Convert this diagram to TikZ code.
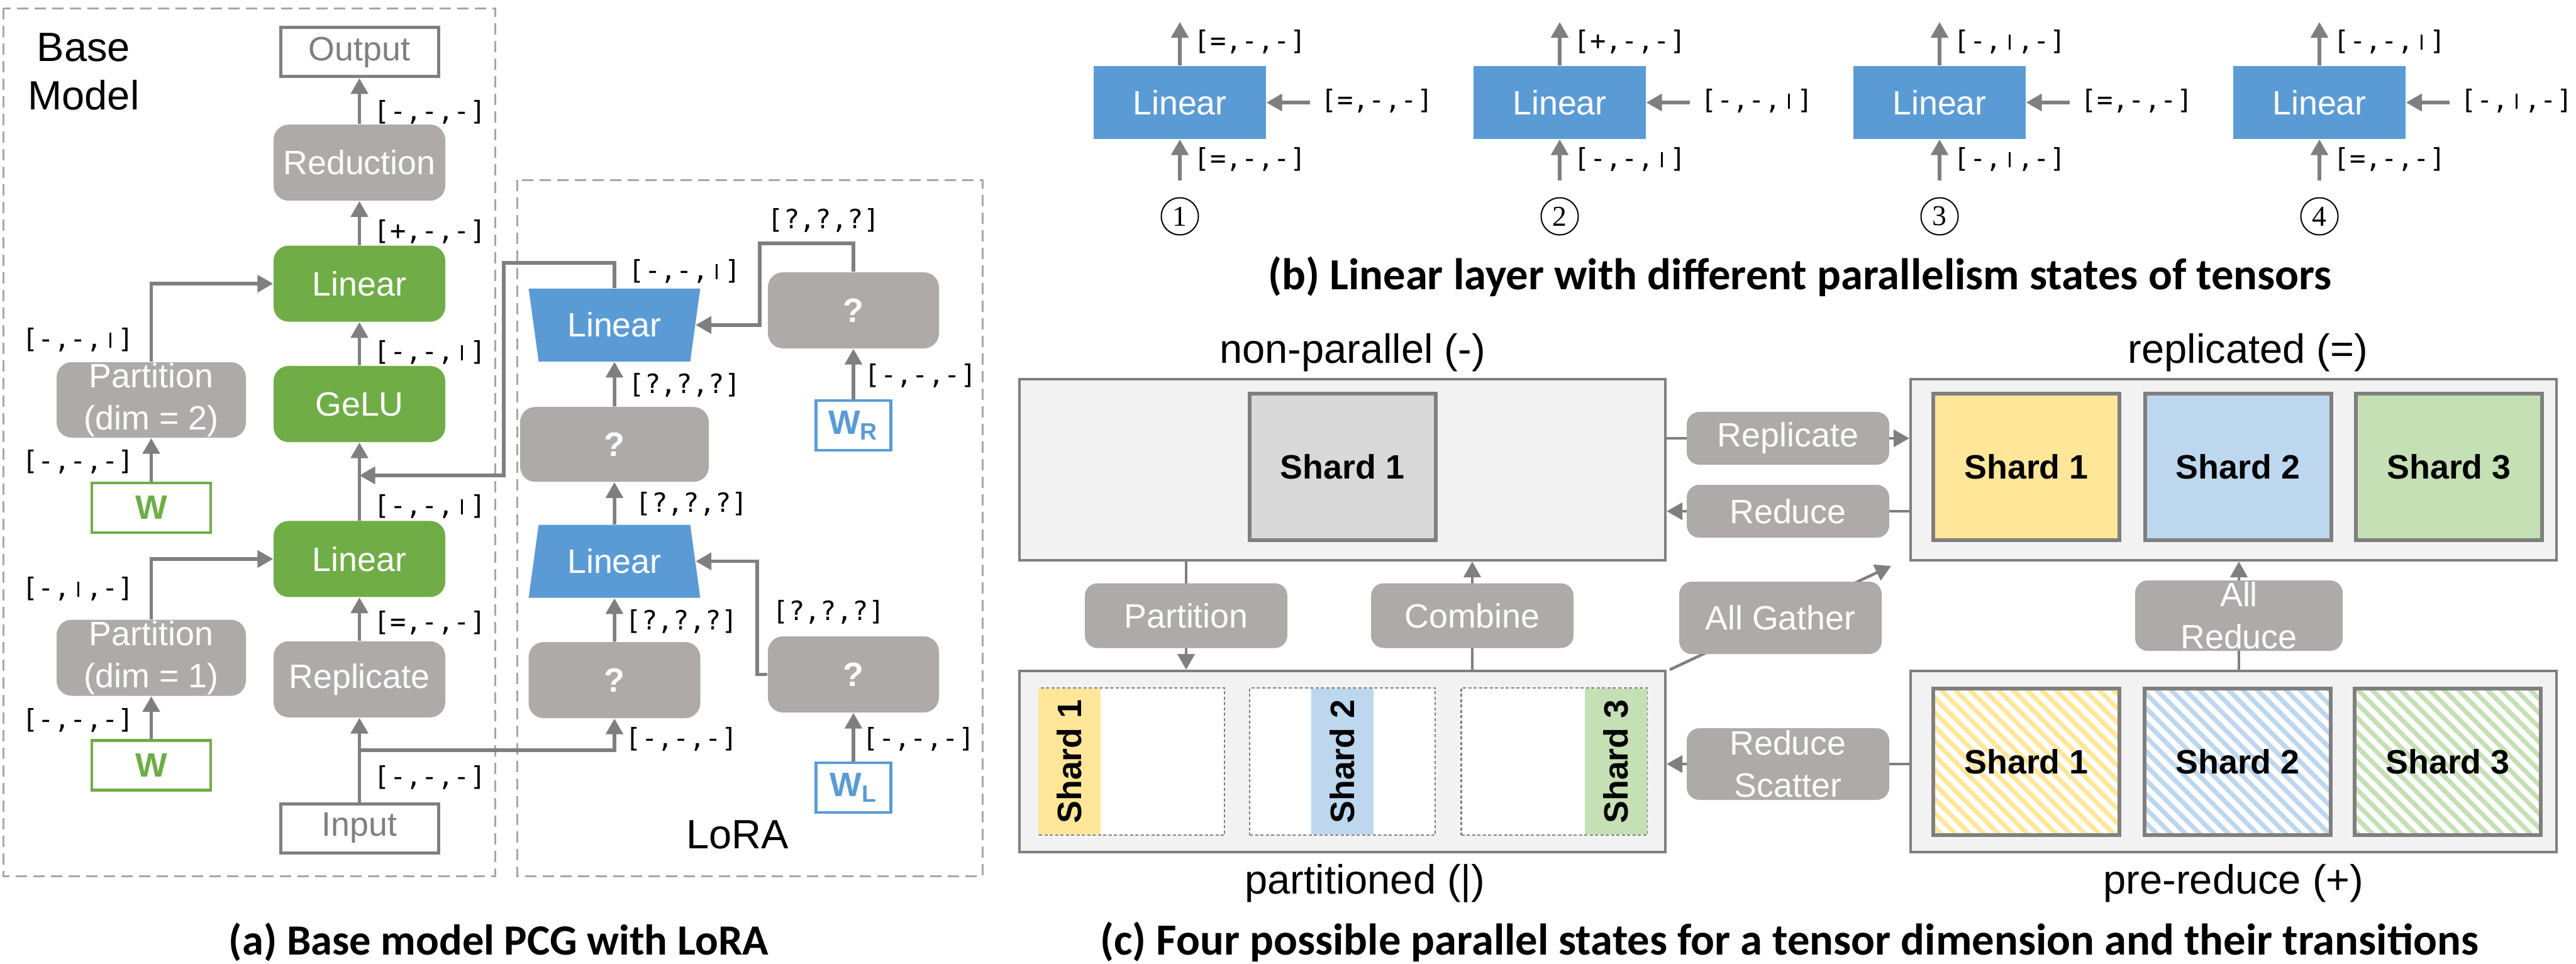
\documentclass[tikz,border=0pt]{standalone}
\usepackage{fontspec}
\setmainfont{Liberation Sans}
\newfontfamily\dejamono{DejaVu Sans Mono}
\newfontfamily\carlito{Carlito}
\newfontfamily\libserif{Liberation Serif}
\usepackage{xcolor}
\definecolor{opgray}{HTML}{AEAAAA}
\definecolor{linegray}{HTML}{7F7F7F}
\definecolor{dashgray}{HTML}{A6A6A6}
\definecolor{basegreen}{HTML}{70AD47}
\definecolor{lorablue}{HTML}{5B9BD5}
\definecolor{panelgray}{HTML}{F2F2F2}
\definecolor{shardgray}{HTML}{D9D9D9}
\definecolor{shardyellow}{HTML}{FFE699}
\definecolor{shardblue}{HTML}{BDD7EE}
\definecolor{shardgreen}{HTML}{C5E0B4}
\usetikzlibrary{shapes.geometric, arrows.meta, positioning, calc, patterns.meta}
\newcommand{\fBox}{\fontsize{15.3}{19}\selectfont}
\newcommand{\fLbl}{\dejamono\fontsize{12}{14}\selectfont}
\newcommand{\fTitle}{\fontsize{18.5}{22}\selectfont}
\newcommand{\fCap}{\carlito\bfseries\fontsize{19.5}{23}\selectfont}
\newcommand{\fCapw}{\carlito\bfseries\fontsize{20.1}{24}\selectfont}
\newcommand{\fNum}{\libserif\fontsize{13}{13}\selectfont}
\newcommand{\pbar}{\makebox[0.602em]{\rule{0.075em}{0.58em}}}

\begin{document}
\begin{tikzpicture}[
        frame/.style={draw=dashgray, line width=0.03cm, dash pattern=on 0.18cm off 0.1cm},
        opbox/.style={rectangle, rounded corners=0.24cm, fill=opgray, text=white, inner sep=0pt, minimum width=2.73cm, minimum height=1.21cm, align=center, font=\fBox},
        greenbox/.style={opbox, fill=basegreen},
        qbox/.style={opbox, font=\fBox\bfseries},
        iobox/.style={rectangle, draw=linegray, line width=0.05cm, text=linegray, minimum width=2.51cm, minimum height=0.78cm, inner sep=0pt, font=\fBox},
        wbox/.style={rectangle, draw=basegreen, line width=0.045cm, fill=white, text=basegreen, minimum width=1.89cm, minimum height=0.79cm, inner sep=0pt, font=\fBox\bfseries},
        lorab/.style={wbox, draw=lorablue, text=lorablue, minimum width=1.19cm},
        trap/.style={trapezium, trapezium stretches=true, fill=lorablue, text=white, minimum width=2.74cm, minimum height=1.16cm, inner sep=0pt, font=\fBox},
        lbl/.style={font=\fLbl, inner sep=0pt, anchor=west},
        lbll/.style={lbl, anchor=east},
        line/.style={draw=linegray, line width=0.055cm, -{Triangle[length=0.25cm, width=0.27cm]}},
        tline/.style={line, line width=0.045cm},
        linb/.style={rectangle, fill=lorablue, text=white, minimum width=2.74cm, minimum height=1.16cm, inner sep=0pt, font=\fBox},
        circ/.style={circle, draw=black, line width=0.02cm, minimum size=0.59cm, inner sep=0pt, font=\fNum},
        panel/.style={rectangle, draw=linegray, fill=panelgray, line width=0.04cm, minimum width=10.27cm, minimum height=2.88cm, inner sep=0pt},
        shard/.style={rectangle, draw=linegray, line width=0.06cm, minimum width=2.96cm, minimum height=2.33cm, inner sep=0pt, font=\fBox\bfseries},
        hatch/.style={shard, preaction={fill=white}, pattern={Lines[angle=-45, distance=4.6pt, line width=2.1pt]}},
        slot/.style={rectangle, draw=linegray, dash pattern=on 0.05cm off 0.035cm, line width=0.025cm, fill=white, minimum width=2.95cm, minimum height=2.34cm, inner sep=0pt},
        strip/.style={rectangle, rotate=90, minimum width=2.32cm, minimum height=0.99cm, inner sep=0pt, font=\fBox\bfseries},
        opc/.style={opbox, rounded corners=0.2cm, minimum width=3.22cm, minimum height=1.03cm},
        title/.style={font=\fTitle, inner sep=0pt, align=center},
        caption/.style={font=\fCap, inner sep=0pt}]

    \useasboundingbox (0,0) rectangle (40.96,-15.32);

    % (a) base model and LoRA
    \draw [frame] (0.05,-0.13) rectangle (7.87,-13.93);
    \draw [frame] (8.22,-2.86) rectangle (15.62,-13.93);
    \node [title] (bm) at (1.33,-1.14) {Base\\Model};
    \node [title] (lora) at (11.73,-13.27) {LoRA};

    \node [iobox] (inp) at (5.715,-13.17) {Input};
    \node [opbox, above=1.34cm of inp] (repl) {Replicate};
    \node [greenbox, above=0.69cm of repl] (lin1) {Linear};
    \node [greenbox, above=1.24cm of lin1] (gelu) {GeLU};
    \node [greenbox, above=0.69cm of gelu] (lin2) {Linear};
    \node [opbox, above=0.70cm of lin2] (red) {Reduction};
    \node [iobox, above=0.73cm of red] (out) {Output};

    \node [opbox, minimum width=3.01cm] (par1) at (2.405,-10.46) {Partition\\(dim = 1)};
    \node [wbox, below=0.68cm of par1] (w1) {W};
    \node [opbox, minimum width=3.01cm, minimum height=1.20cm] (par2) at (2.405,-6.36) {Partition\\(dim = 2)};
    \node [wbox, below=0.69cm of par2] (w2) {W};

    \coordinate (spl) at (5.715,-11.93);
    \coordinate (mrg) at (5.715,-7.56);
    \path [line] (inp) -- (repl);
    \path [line] (repl) -- (lin1);
    \path [line] (lin1) -- (gelu);
    \path [line] (gelu) -- (lin2);
    \path [line] (lin2) -- (red);
    \path [line] (red) -- (out);
    \path [line] (w1) -- (par1);
    \path [line] (w2) -- (par2);
    \path [line] (par1.north) |- (lin1.west);
    \path [line] (par2.north) |- (lin2.west);

    \node [lbl] (a1) at (5.94,-1.78) {[-,-,-]};
    \node [lbl] (a2) at (5.94,-3.68) {[+,-,-]};
    \node [lbl] (a3) at (5.94,-5.60) {[-,-,\pbar]};
    \node [lbl] (a4) at (5.94,-8.05) {[-,-,\pbar]};
    \node [lbl] (a5) at (5.94,-9.90) {[=,-,-]};
    \node [lbl] (a6) at (5.94,-12.36) {[-,-,-]};
    \node [lbll] (a7) at (2.14,-5.40) {[-,-,\pbar]};
    \node [lbll] (a8) at (2.14,-7.34) {[-,-,-]};
    \node [lbll] (a9) at (2.14,-9.36) {[-,\pbar,-]};
    \node [lbll] (a10) at (2.14,-11.45) {[-,-,-]};

    \node [qbox] (ql) at (9.77,-10.815) {?};
    \node [trap, trapezium angle=76, above=0.69cm of ql] (llin) {Linear};
    \node [qbox, minimum width=3.00cm, minimum height=1.19cm, above=0.67cm of llin] (qm) {?};
    \node [trap, trapezium left angle=104, trapezium right angle=104, above=0.71cm of qm] (tlin) {Linear};
    \node [qbox, minimum width=2.72cm] (qs) at (13.57,-10.725) {?};
    \node [lorab, below=0.77cm of qs] (wl) {W\textsubscript{L}};
    \node [qbox, minimum width=2.72cm] (qr) at (13.57,-4.935) {?};
    \node [lorab, below=0.80cm of qr] (wr) {W\textsubscript{R}};

    \path [line] (spl) -| (ql.south);
    \path [line] (ql) -- (llin);
    \path [line] (llin) -- (qm);
    \path [line] (qm) -- (tlin);
    \path [line] (wl) -- (qs);
    \path [line] (wr) -- (qr);
    \path [line] (qs.west) -- (12.04,-10.725) |- (llin.east);
    \path [line] (qr.north) |- (12.08,-3.87) |- (tlin.east);
    \path [line] (tlin.north) |- (8.01,-4.18) |- (mrg);

    \node [lbl] (b1) at (9.99,-4.31) {[-,-,\pbar]};
    \node [lbl] (b2) at (9.99,-6.12) {[?,?,?]};
    \node [lbl] (b3) at (10.10,-8.01) {[?,?,?]};
    \node [lbl] (b4) at (9.94,-9.88) {[?,?,?]};
    \node [lbl] (b5) at (9.94,-11.75) {[-,-,-]};
    \node [lbl] (b6) at (12.20,-3.50) {[?,?,?]};
    \node [lbl] (b7) at (13.74,-5.97) {[-,-,-]};
    \node [lbl] (b8) at (12.28,-9.73) {[?,?,?]};
    \node [lbl] (b9) at (13.71,-11.75) {[-,-,-]};

    % (b) linear layer states
    \foreach \n/\xc/\up/\side/\down in {1/18.76/{[=,-,-]}/{[=,-,-]}/{[=,-,-]},
            2/24.80/{[+,-,-]}/{[-,-,\pbar]}/{[-,-,\pbar]},
            3/30.84/{[-,\pbar,-]}/{[=,-,-]}/{[-,\pbar,-]},
            4/36.88/{[-,-,\pbar]}/{[-,\pbar,-]}/{[=,-,-]}} {
        \node [linb] (lb\n) at (\xc,-1.63) {Linear};
        \coordinate (bt\n) at (\xc,-0.35);
        \coordinate (bb\n) at (\xc,-2.87);
        \coordinate (bs\n) at (\xc+2.07,-1.63);
        \path [line] (lb\n.north) -- (bt\n);
        \path [line] (bb\n) -- (lb\n.south);
        \path [line] (bs\n) -- (lb\n.east);
        \node [lbl] (lu\n) at (\xc+0.22,-0.66) {\up};
        \node [lbl] (ls\n) at (\xc+2.24,-1.60) {\side};
        \node [lbl] (ld\n) at (\xc+0.22,-2.53) {\down};
        \node [circ] (cn\n) at (\xc,-3.44) {\n};
    }

    % (c) parallel states
    \node [panel] (np) at (21.345,-7.47) {};
    \node [panel] (rp) at (35.515,-7.47) {};
    \node [panel] (pt) at (21.345,-12.11) {};
    \node [panel] (pr) at (35.515,-12.11) {};
    \node [title, above=0.09cm of np, xshift=0.16cm] (tnp) {non-parallel (-)};
    \node [title, above=0.09cm of rp, xshift=0.23cm] (trp) {replicated (=)};
    \node [title, below=0.17cm of pt, xshift=0.36cm] (tpt) {partitioned (|)};
    \node [title, below=0.17cm of pr] (tpr) {pre-reduce (+)};

    \node [shard, fill=shardgray] (s0) at (21.345,-7.42) {Shard 1};
    \node [shard, fill=shardyellow] (s1) at (32.22,-7.42) {Shard 1};
    \node [shard, fill=shardblue] (s2) at (35.585,-7.42) {Shard 2};
    \node [shard, fill=shardgreen] (s3) at (38.94,-7.42) {Shard 3};
    \node [hatch, pattern color=shardyellow] (h1) at (32.22,-12.115) {Shard 1};
    \node [hatch, pattern color=shardblue] (h2) at (35.58,-12.115) {Shard 2};
    \node [hatch, pattern color=shardgreen] (h3) at (38.92,-12.115) {Shard 3};

    \node [slot] (sl1) at (17.995,-12.11) {};
    \node [slot] (sl2) at (21.345,-12.11) {};
    \node [slot] (sl3) at (24.71,-12.11) {};
    \node [strip, fill=shardyellow] (st1) at ([xshift=0.5cm]sl1.west) {Shard 1};
    \node [strip, fill=shardblue] (st2) at (sl2.center) {Shard 2};
    \node [strip, fill=shardgreen] (st3) at ([xshift=-0.5cm]sl3.east) {Shard 3};

    \path [tline] (np.east |- 0,-6.97) -- node [opc, minimum height=0.84cm] (trep) {Replicate} (rp.west |- 0,-6.97);
    \path [tline] (rp.west |- 0,-8.13) -- node [opc, minimum height=0.84cm] (tred) {Reduce} (np.east |- 0,-8.13);
    \path [tline] ([xshift=0.05cm]pt.north east) -- node [opc, minimum height=1.15cm] (tag) {All Gather} ([shift={(-0.29,-0.07)}]rp.south west);
    \path [tline] (pr.west |- 0,-12.15) -- node [opc, minimum height=1.14cm, inner ysep=-0.05cm] (trs) {Reduce\\Scatter} (pt.east |- 0,-12.15);
    \path [tline] (pr.north -| 35.60,0) -- node [opc, minimum width=3.30cm, minimum height=1.12cm, inner ysep=-0.05cm] (tar) {All\\Reduce} (rp.south -| 35.60,0);
    \path [tline] (np.south -| 18.86,0) -- node [opc] (tpa) {Partition} (pt.north -| 18.86,0);
    \path [tline] (pt.north -| 23.41,0) -- node [opc] (tco) {Combine} (np.south -| 23.41,0);

    % captions
    \node [caption] (capa) at (7.93,-14.98) {(a) Base model PCG with LoRA};
    \node [caption, font=\fCapw] (capb) at (28.62,-4.40) {(b) Linear layer with different parallelism states of tensors};
    \node [caption, font=\fCapw] (capc) at (28.45,-14.98) {(c) Four possible parallel states for a tensor dimension and their transitions};
\end{tikzpicture}
\end{document}
